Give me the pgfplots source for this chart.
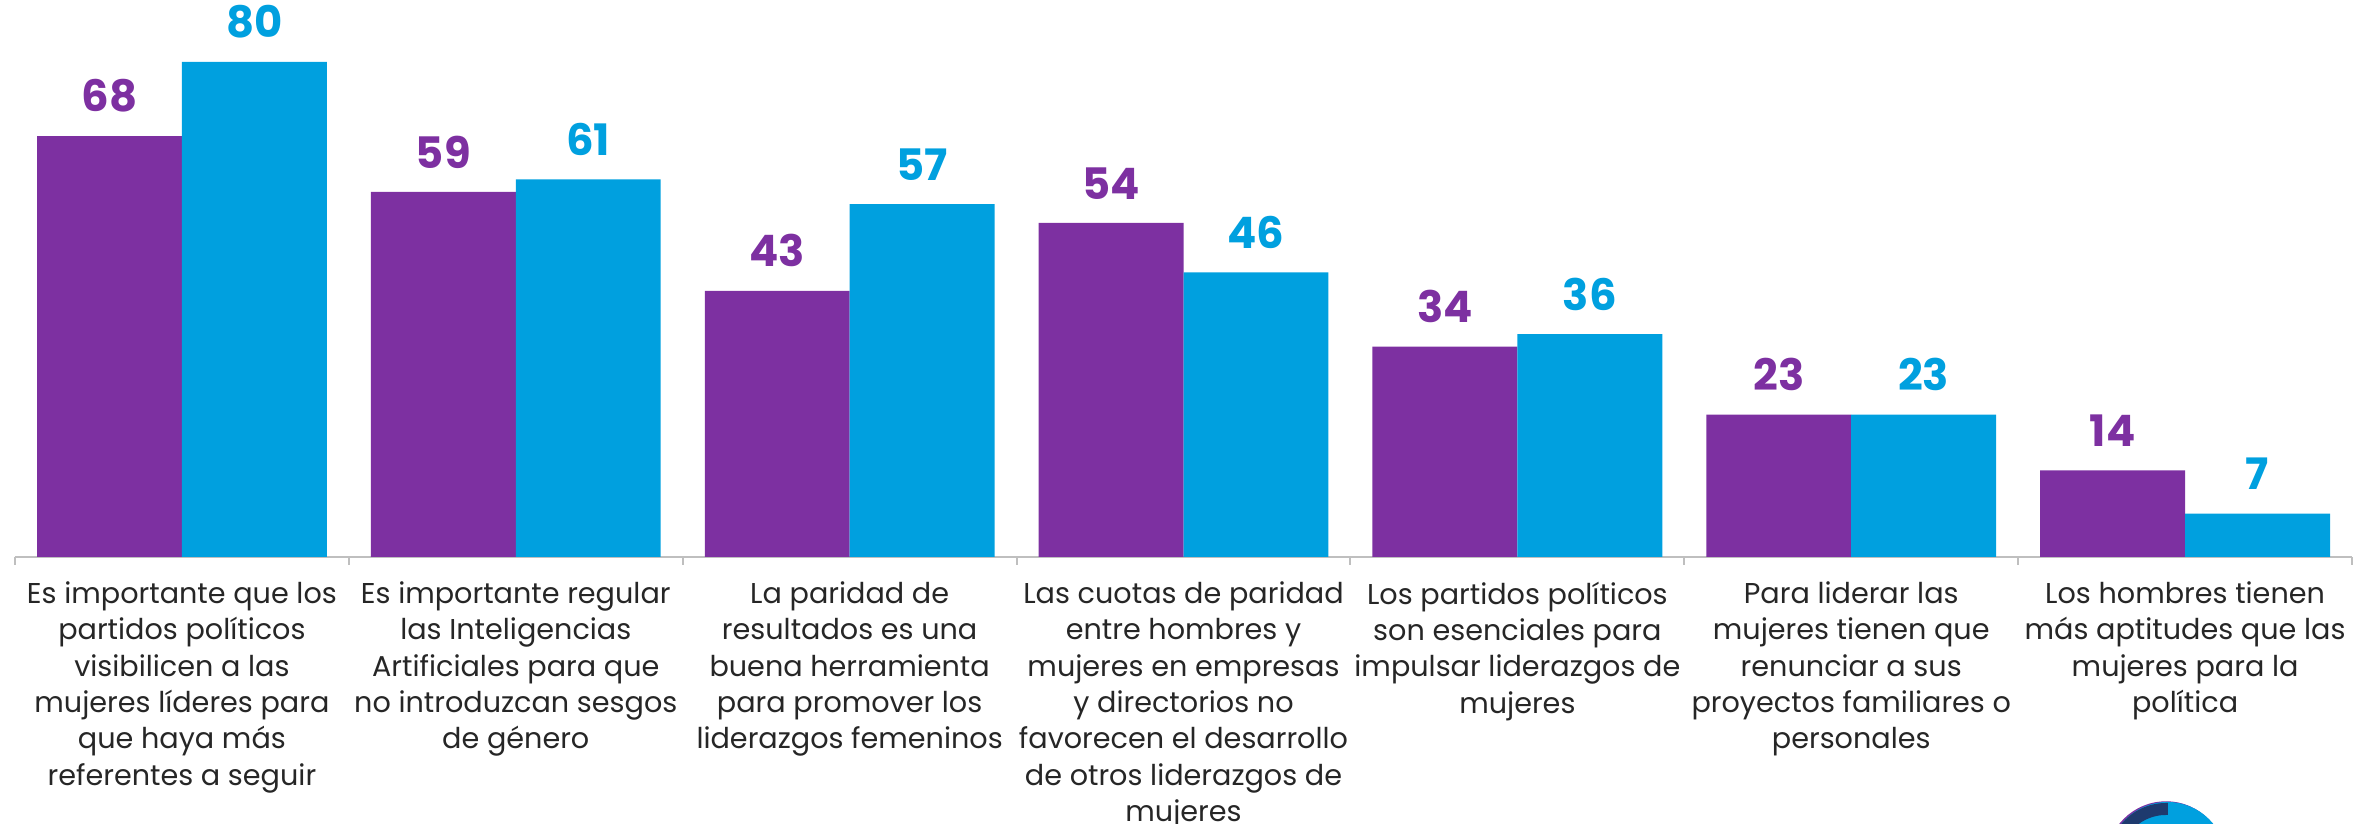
\documentclass[border=0pt]{standalone}
\usepackage{pgfplots}
\pgfplotsset{compat=1.18}
\usepackage{fontspec}
\setmainfont{Poppins}
\definecolor{cpurple}{HTML}{7D30A1}
\definecolor{cblue}{HTML}{00A0DF}
\definecolor{cgray}{HTML}{BFBFBF}
\definecolor{cnavy}{HTML}{1E3A6E}
\begin{document}
\begin{tikzpicture}
\pgfplotstableread{
x a b
0 68 80
1 59 61
2 43 57
3 54 46
4 34 36
5 23 23
6 14 7
}\data
\begin{axis}[
  scale only axis,
  width=701.1pt, height=167.1pt,
  xmin=-0.5, xmax=6.5, ymin=0, ymax=90,
  /pgf/number format/assume math mode=true,
  axis y line=none,
  axis x line=bottom,
  x axis line style={draw=cgray, -, line width=0.6pt},
  xtick={0,...,6},
  xticklabels={
    {Es importante que los\\partidos políticos\\visibilicen a las\\mujeres líderes para\\que haya más\\referentes a seguir},
    {Es importante regular\\las Inteligencias\\Artificiales para que\\no introduzcan sesgos\\de género},
    {La paridad de\\resultados es una\\buena herramienta\\para promover los\\liderazgos femeninos},
    {Las cuotas de paridad\\entre hombres y\\mujeres en empresas\\y directorios no\\favorecen el desarrollo\\de otros liderazgos de\\mujeres},
    {Los partidos políticos\\son esenciales para\\impulsar liderazgos de\\mujeres},
    {Para liderar las\\mujeres tienen que\\renunciar a sus\\proyectos familiares o\\personales},
    {Los hombres tienen\\más aptitudes que las\\mujeres para la\\política}
  },
  major tick length=0pt,
  minor xtick={-0.5,0.5,...,6.5},
  minor tick length=2.4pt,
  tick align=outside,
  minor tick style={draw=cgray, line width=0.6pt},
  xticklabel style={align=center, font=\fontsize{8.6}{10.9}\selectfont, anchor=north, inner sep=0pt, yshift=-7.2pt, text=black!85},
  ybar=0pt,
  bar width=0.434,
  nodes near coords,
  every node near coord/.append style={font=\fontsize{13}{15}\selectfont\bfseries, anchor=south, inner sep=0pt, yshift=6.9pt},
  clip=false,
]
\addplot[fill=cpurple, draw=none, bar shift=-0.217, nodes near coords style={text=cpurple}] table[x=x, y=a] {\data};
\addplot[fill=cblue, draw=none, bar shift=0.217, nodes near coords style={text=cblue}] table[x=x, y=b] {\data};
\end{axis}
% logo (decoration), partly cut by the page edge
\begin{scope}[shift={([shift={(-55.8pt,-91.2pt)}]current axis.south east)}]
  \fill[cpurple] (0,0) circle (17.9pt);
  \fill[cblue] (0.4pt,0) circle (17.7pt);
  \draw[cnavy, line width=3.6pt] (155:15.6pt) arc (155:88:15.6pt);
\end{scope}
\pgfresetboundingbox
\path ([shift={(-4.5pt,-80.1pt)}]current axis.south west) rectangle ([shift={(8.1pt,0pt)}]current axis.north east);
\end{tikzpicture}
\end{document}
